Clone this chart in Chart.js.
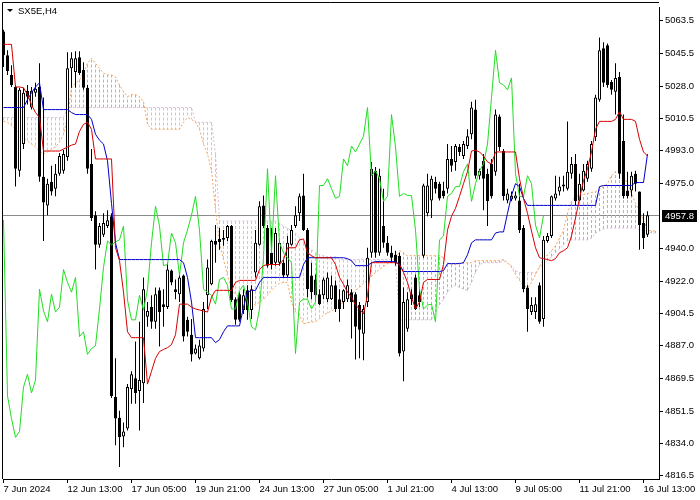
<!DOCTYPE html>
<html><head><meta charset="utf-8">
<script src="https://cdn.jsdelivr.net/npm/chart.js@4.4.1/dist/chart.umd.min.js"></script>
<style>html,body{margin:0;padding:0;background:#fff}canvas{display:block}</style>
</head><body>
<canvas id="c" width="700" height="500"></canvas>
<script>
const symbol = "SX5E,H4";
const tickLabels = ["7 Jun 2024","12 Jun 13:00","17 Jun 05:00","19 Jun 21:00","24 Jun 13:00","27 Jun 05:00","1 Jul 21:00","4 Jul 13:00","9 Jul 05:00","11 Jul 21:00","16 Jul 13:00"];
const tickBars = [0,16,32,48,64,80,96,112,128,144,160];
const yTickValues = [5063.5,5045.5,5028.0,5010.5,4993.0,4975.0,4940.0,4922.0,4904.5,4887.0,4869.5,4851.5,4834.0,4816.5];
const lastPrice = 4957.8;

const open = [5057.6,5044.7,5034.0,5027.5,4982.0,4996.5,5025.4,5016.3,5024.3,5027.5,
4978.8,4963.2,4976.1,4972.3,4980.4,4982.0,4989.5,5037.7,5035.6,5043.6,
5036.7,5027.0,4985.7,4957.9,4941.8,4947.2,4952.0,4957.3,4859.2,4848.0,
4837.8,4842.1,4863.5,4869.4,4862.5,4866.7,4902.7,4908.0,4900.0,4917.1,
4909.6,4908.0,4927.8,4917.7,4915.0,4925.2,4901.1,4893.0,4882.8,4880.2,
4885.5,4914.4,4920.4,4943.9,4945.0,4945.5,4945.5,4952.0,4912.3,4915.0,
4906.4,4917.1,4906.4,4926.8,4941.8,4963.2,4950.9,4937.5,4932.1,4932.1,
4932.1,4925.2,4941.8,4952.0,4958.9,4968.6,4949.8,4925.2,4923.0,4915.0,
4914.4,4912.3,4912.3,4919.8,4912.3,4910.7,4912.3,4916.1,4915.0,4909.1,
4893.6,4910.7,4937.5,4982.0,4937.5,4952.0,4942.9,4937.5,4936.4,4935.9,
4883.9,4896.2,4915.0,4924.1,4914.4,4935.9,4958.9,4965.9,4976.1,4975.0,
4971.3,4972.3,4988.4,4986.8,4994.9,4990.0,4995.4,5001.8,5015.2,4979.3,
4987.4,4980.4,4985.7,4981.5,5011.5,4992.7,4965.9,4966.4,4967.0,4965.9,
4950.9,4918.7,4905.3,4905.3,4919.8,4901.6,4943.9,4946.6,4967.0,4970.7,
4974.5,4972.3,4980.4,4985.7,4965.9,4971.3,4977.7,4983.1,5000.2,5020.6,
5048.5,5050.1,5030.2,5024.9,5032.9,4998.1,4971.3,4971.3,4980.4,4970.7,
4953.6,4947.2];
const high = [5058.6,5047.4,5039.3,5028.6,5027.0,5027.0,5028.6,5027.5,5029.7,5040.4,
5021.7,4977.7,4984.7,4985.7,4991.6,4993.2,5046.3,5046.3,5046.8,5046.8,
5040.9,5028.6,4993.8,4960.0,4953.6,4958.9,4960.5,4958.9,4880.2,4851.7,
4845.3,4866.2,4873.2,4889.3,4900.0,4924.1,4910.7,4914.4,4918.7,4918.7,
4917.7,4932.1,4928.4,4923.0,4926.8,4925.7,4902.7,4901.6,4887.7,4890.3,
4910.7,4933.8,4944.5,4952.5,4950.9,4949.8,4952.5,4952.5,4913.4,4916.1,
4917.7,4919.8,4919.8,4949.8,4965.4,4968.6,4952.5,4950.9,4950.9,4944.5,
4933.8,4946.6,4952.5,4962.7,4969.7,4980.4,4950.9,4932.1,4925.7,4917.7,
4924.1,4926.8,4925.2,4922.5,4917.7,4917.7,4923.0,4917.7,4916.1,4910.7,
4909.1,4940.2,4986.8,4984.1,4983.1,4972.3,4946.6,4941.3,4938.6,4937.5,
4918.7,4916.1,4917.7,4925.7,4917.7,4975.0,4980.4,4979.3,4978.8,4976.1,
4976.1,4996.5,4995.4,4996.5,4996.5,4998.1,5004.5,5019.5,5020.6,4983.1,
4991.1,4983.1,4988.4,5015.2,5012.5,4993.8,4972.3,4970.7,4970.7,4975.0,
4952.5,4919.8,4913.4,4913.4,4921.4,4946.6,4948.2,4968.6,4979.3,4978.8,
4979.3,5008.8,4989.5,4991.1,4980.4,4985.7,4987.4,4998.1,5023.3,5054.3,
5051.7,5051.1,5031.3,5040.4,5035.6,5012.5,4981.5,4981.5,4982.0,4970.7,
4958.9,4960.0];
const low = [5038.3,5034.0,5027.5,4973.4,4978.8,4993.8,5017.9,5015.2,5022.2,4976.1,
4943.9,4957.9,4968.6,4968.1,4979.3,4980.4,4987.4,5027.0,5027.0,5034.0,
5025.9,4980.4,4954.7,4928.4,4940.2,4946.1,4950.9,4858.7,4833.0,4821.2,
4831.9,4841.0,4855.5,4855.5,4841.0,4856.0,4897.3,4896.2,4896.2,4886.6,
4897.3,4907.0,4919.8,4912.3,4910.7,4889.3,4892.0,4878.5,4882.3,4879.6,
4883.9,4907.0,4919.8,4932.1,4939.1,4941.3,4943.9,4910.7,4898.4,4900.0,
4904.3,4901.1,4901.6,4924.1,4941.3,4950.9,4929.5,4928.4,4930.5,4930.5,
4924.1,4924.1,4941.3,4950.9,4954.7,4949.3,4913.4,4912.3,4910.7,4909.1,
4912.3,4910.7,4911.8,4905.3,4900.0,4907.0,4910.7,4890.9,4879.6,4880.2,
4879.1,4908.0,4934.8,4934.8,4935.9,4940.2,4935.9,4932.1,4930.5,4881.2,
4867.8,4894.6,4909.1,4906.4,4908.0,4934.8,4957.3,4956.3,4969.7,4965.9,
4967.0,4969.7,4981.5,4982.0,4990.0,4988.4,4993.8,4999.1,4977.7,4977.2,
4960.5,4952.0,4967.0,4979.3,4992.7,4965.9,4964.3,4965.4,4965.9,4948.2,
4916.1,4894.6,4903.7,4901.6,4898.9,4897.3,4942.9,4945.5,4965.9,4968.6,
4970.7,4971.3,4977.7,4963.2,4965.4,4970.7,4976.1,4981.5,4998.1,5019.5,
5027.5,5027.0,5023.3,5012.5,4977.7,4967.0,4967.0,4968.1,4970.7,4939.1,
4939.6,4946.1];
const close = [5044.7,5036.1,5028.6,4983.1,5025.9,5024.3,5022.2,5025.4,5026.5,4978.8,
4964.8,4975.0,4970.7,4980.4,4990.0,4991.1,5037.7,5043.1,5043.1,5035.0,
5027.0,4983.1,4956.3,4941.8,4952.0,4953.6,4955.2,4859.8,4847.5,4837.3,
4840.5,4864.6,4871.6,4861.4,4868.4,4917.7,4905.9,4900.0,4915.0,4905.3,
4908.0,4928.4,4921.4,4916.1,4924.1,4892.0,4894.6,4882.3,4885.5,4887.1,
4907.0,4929.5,4943.9,4941.8,4943.4,4944.5,4952.0,4911.8,4901.1,4901.1,
4914.4,4906.4,4917.7,4942.9,4962.7,4952.0,4930.5,4931.1,4948.2,4942.9,
4925.2,4942.9,4949.8,4957.9,4968.1,4949.8,4917.7,4916.1,4914.4,4909.6,
4923.0,4924.1,4919.8,4907.0,4907.0,4917.1,4919.8,4910.7,4897.3,4895.7,
4907.0,4934.8,4983.1,4937.5,4979.3,4942.9,4937.5,4934.8,4932.1,4882.8,
4910.7,4912.3,4912.3,4907.0,4910.7,4974.0,4974.0,4977.7,4972.3,4967.0,
4968.1,4988.4,4984.7,4995.4,4992.2,4996.5,5000.7,5016.3,4979.3,4982.0,
4977.7,4965.4,4968.1,5012.5,4994.9,4968.1,4969.7,4968.6,4968.6,4949.8,
4917.7,4907.0,4909.1,4909.6,4900.0,4944.5,4946.6,4968.1,4969.7,4973.4,
4973.4,4981.5,4985.7,4965.4,4975.0,4982.0,4985.7,4996.5,5021.7,5047.4,
5029.7,5028.6,5025.9,5032.4,4980.4,4968.1,4968.1,4979.3,4975.0,4952.5,
4945.5,4957.8];

const tenkan = [5050.6,5050.6,5050.6,5027.5,5027.5,5027.0,5023.3,5017.9,5013.6,5010.9,
4992.7,4992.7,4992.7,4992.7,4992.7,4993.8,4994.9,4995.9,4996.5,5003.4,
5007.2,5008.3,5004.5,4988.4,4988.4,4988.4,4988.4,4988.4,4940.2,4933.2,
4916.1,4894.6,4891.4,4891.4,4891.4,4891.4,4866.2,4873.2,4880.2,4883.9,
4885.0,4886.0,4887.7,4893.0,4909.6,4909.6,4909.6,4908.0,4907.0,4906.4,
4905.9,4905.3,4913.4,4917.1,4917.1,4917.1,4917.1,4917.1,4921.4,4922.5,
4922.5,4922.5,4922.5,4922.5,4928.4,4930.5,4931.1,4931.1,4931.1,4931.1,
4933.8,4940.2,4940.2,4940.2,4944.5,4945.0,4937.5,4935.9,4934.8,4934.8,
4934.8,4934.8,4934.8,4931.1,4924.1,4920.4,4916.1,4913.4,4909.1,4907.0,
4904.3,4914.4,4932.1,4932.1,4932.1,4932.1,4932.1,4932.1,4932.1,4931.1,
4926.8,4921.4,4913.4,4907.0,4910.7,4921.4,4923.0,4923.0,4923.0,4923.0,
4931.1,4949.8,4957.3,4961.6,4968.1,4975.0,4981.5,4992.7,4993.2,4992.2,
4990.0,4986.8,4985.7,4992.2,4992.2,4992.2,4992.2,4992.2,4992.2,4977.7,
4967.0,4958.9,4949.3,4940.2,4934.8,4934.3,4933.8,4933.2,4934.3,4937.5,
4938.6,4940.2,4946.6,4956.3,4967.0,4976.6,4983.1,4992.2,5004.5,5008.8,
5008.8,5008.8,5008.8,5009.9,5014.1,5009.9,5009.9,5009.9,5008.8,4999.1,
4992.2,4990.0];
const kijun = [5016.3,5016.3,5016.3,5016.3,5016.3,5016.3,5020.6,5024.3,5027.5,5029.7,
5015.2,5015.2,5015.2,5015.2,5015.2,5015.2,5015.2,5013.6,5012.5,5012.5,
5012.5,5012.5,5009.9,5001.8,4998.6,4996.5,4987.4,4964.3,4942.9,4933.8,
4933.8,4933.8,4933.8,4933.8,4933.8,4933.8,4933.8,4933.8,4933.8,4933.8,
4933.8,4933.8,4933.8,4933.8,4933.8,4932.1,4924.1,4910.7,4891.4,4891.4,
4891.4,4891.4,4891.4,4888.7,4890.3,4894.6,4897.8,4897.8,4897.8,4897.8,
4908.0,4916.1,4917.1,4917.1,4921.4,4924.1,4924.1,4924.1,4924.1,4924.1,
4924.1,4924.1,4924.1,4924.1,4924.1,4931.1,4934.8,4934.8,4934.8,4934.8,
4934.8,4934.8,4934.8,4934.8,4934.8,4934.8,4934.3,4933.2,4930.5,4930.5,
4930.5,4930.5,4932.1,4932.7,4932.7,4932.7,4932.7,4932.7,4932.7,4931.1,
4927.3,4927.3,4927.3,4927.3,4927.3,4927.3,4927.3,4927.3,4927.3,4927.3,
4927.8,4931.6,4931.6,4931.6,4931.6,4932.1,4936.4,4942.9,4944.5,4944.5,
4944.5,4944.5,4944.5,4948.2,4948.8,4948.8,4958.9,4968.6,4975.0,4973.4,
4967.0,4963.2,4963.2,4963.2,4963.2,4963.2,4963.2,4963.2,4963.2,4963.2,
4963.2,4963.2,4963.2,4963.2,4963.2,4963.2,4963.2,4963.2,4963.2,4973.4,
4974.0,4974.0,4974.0,4974.0,4974.0,4974.0,4974.0,4974.0,4975.6,4975.6,
4975.6,4991.1];
const chikou = [4955.2,4859.8,4847.5,4837.3,4840.5,4864.6,4871.6,4861.4,4868.4,4917.7,
4905.9,4900.0,4915.0,4905.3,4908.0,4928.4,4921.4,4916.1,4924.1,4892.0,
4894.6,4882.3,4885.5,4887.1,4907.0,4929.5,4943.9,4941.8,4943.4,4944.5,
4952.0,4911.8,4901.1,4901.1,4914.4,4906.4,4917.7,4942.9,4962.7,4952.0,
4930.5,4931.1,4948.2,4942.9,4925.2,4942.9,4949.8,4957.9,4968.1,4949.8,
4917.7,4916.1,4914.4,4909.6,4923.0,4924.1,4919.8,4907.0,4907.0,4917.1,
4919.8,4910.7,4897.3,4895.7,4907.0,4934.8,4983.1,4937.5,4979.3,4942.9,
4937.5,4934.8,4932.1,4882.8,4910.7,4912.3,4912.3,4907.0,4910.7,4974.0,
4974.0,4977.7,4972.3,4967.0,4968.1,4988.4,4984.7,4995.4,4992.2,4996.5,
5000.7,5016.3,4979.3,4982.0,4977.7,4965.4,4968.1,5012.5,4994.9,4968.1,
4969.7,4968.6,4968.6,4949.8,4917.7,4907.0,4909.1,4909.6,4900.0,4944.5,
4946.6,4968.1,4969.7,4973.4,4973.4,4981.5,4985.7,4965.4,4975.0,4982.0,
4985.7,4996.5,5021.7,5047.4,5029.7,5028.6,5025.9,5032.4,4980.4,4968.1,
4968.1,4979.3,4975.0,4952.5,4945.5,4957.8];
const spanA = [5008.8,5008.3,5006.6,5004.5,5001.8,5000.2,4998.1,4996.5,4994.9,4992.7,
4991.1,4992.2,4993.8,4994.9,4997.5,5001.8,5010.9,5027.0,5029.7,5031.3,
5035.0,5040.4,5043.1,5040.4,5037.7,5035.0,5034.0,5034.0,5032.9,5028.6,
5024.9,5022.2,5023.3,5023.3,5022.2,5019.5,5007.2,5004.5,5004.5,5004.5,
5004.5,5004.5,5004.5,5004.5,5004.5,5008.3,5010.9,5009.9,5008.3,5004.5,
4996.5,4991.1,4982.0,4960.5,4942.9,4933.8,4925.2,4917.7,4915.0,4913.4,
4912.3,4911.2,4910.2,4909.1,4910.7,4912.3,4914.4,4917.1,4919.3,4920.9,
4921.4,4921.4,4910.7,4905.3,4903.7,4898.9,4899.5,4900.0,4900.0,4901.6,
4903.7,4904.8,4905.9,4907.0,4909.1,4910.7,4912.8,4915.0,4917.1,4918.7,
4920.9,4922.5,4924.6,4926.8,4928.4,4930.0,4931.6,4932.7,4933.2,4938.6,
4937.5,4935.9,4935.9,4935.9,4935.9,4935.9,4935.9,4935.9,4935.9,4935.9,
4934.8,4932.1,4931.1,4931.1,4932.1,4932.1,4932.1,4932.1,4933.2,4933.2,
4933.2,4933.2,4933.2,4933.2,4933.2,4933.8,4932.1,4929.5,4925.7,4922.5,
4919.8,4918.7,4921.4,4925.7,4930.0,4933.8,4936.4,4938.6,4941.3,4945.5,
4949.8,4958.9,4965.4,4968.1,4968.6,4969.1,4969.7,4970.2,4970.7,4971.8,
4973.4,4975.0,4979.3,4981.5,4981.5,4979.3,4975.0,4969.7,4964.3,4960.0,
4955.2,4949.8,4949.3,4949.3];
const spanB = [5010.9,5010.9,5010.9,5010.9,5010.9,5010.9,5010.9,5010.9,5010.9,5010.9,
5010.9,5010.9,5010.9,5010.9,5010.9,5010.9,5016.3,5016.3,5016.3,5016.3,
5016.3,5016.3,5016.3,5016.3,5016.3,5016.3,5016.3,5016.3,5016.3,5016.3,
5016.3,5016.3,5016.3,5016.3,5016.3,5016.3,5016.3,5016.3,5016.3,5016.3,
5016.3,5016.3,5016.3,5016.3,5016.3,5016.3,5016.3,5016.3,5008.3,5008.3,
5008.3,5008.3,5008.3,4991.1,4954.7,4954.7,4954.7,4954.7,4954.7,4954.7,
4954.7,4954.7,4954.7,4954.7,4954.7,4954.7,4954.7,4954.7,4954.7,4953.6,
4952.0,4950.9,4949.3,4948.2,4945.5,4942.9,4940.7,4939.1,4937.5,4936.4,
4935.9,4935.4,4935.4,4935.4,4933.8,4933.8,4933.8,4933.8,4933.8,4933.8,
4933.8,4933.8,4933.8,4933.8,4933.8,4933.8,4933.8,4933.8,4933.8,4901.1,
4901.1,4901.1,4901.1,4901.1,4901.1,4901.1,4901.1,4901.1,4905.3,4909.1,
4912.3,4916.1,4918.7,4919.8,4918.7,4917.7,4917.1,4921.4,4926.8,4931.1,
4932.1,4932.1,4932.1,4932.1,4932.1,4933.2,4932.1,4930.5,4927.8,4926.8,
4926.8,4926.8,4926.8,4926.8,4929.5,4931.1,4933.2,4935.4,4937.5,4939.6,
4941.8,4943.9,4944.5,4944.5,4944.5,4944.5,4944.5,4945.5,4948.2,4949.3,
4950.4,4950.9,4950.9,4950.9,4950.9,4950.9,4950.9,4950.9,4950.9,4949.8,
4949.3,4948.8,4948.2,4948.2];

const SAND = '#f4a460';
const THISTLE = '#d8bfd8';

const toPts = arr => arr.map((v, i) => ({x: i, y: v}));
const bodies = open.map((o, i) => ({x: i, y: [o, close[i]]}));
const wicks = open.map((o, i) => ({x: i, y: [low[i], high[i]]}));
const bodyColors = open.map((o, i) => close[i] >= o ? '#ffffff' : '#000000');

// Kumo hatch: one dotted vertical segment per bar, from Span B to Span A
const kumoSets = spanA.map((a, i) => ({
  type: 'line', label: 'Kumo ' + i,
  data: [{x: i, y: spanB[i]}, {x: i, y: a}],
  borderColor: a >= spanB[i] ? SAND : THISTLE,
  borderWidth: 1, borderDash: [3, 2], pointRadius: 0, fill: false, order: 5
}));

const FONT = "'Liberation Sans', Arial, sans-serif";
const font = {family: FONT, size: 9.5};

const decor = {
  id: 'decor',
  beforeDatasetsDraw(chart) {
    const {ctx, chartArea: a, scales: {y}} = chart;
    const py = Math.round(y.getPixelForValue(lastPrice)) + 0.5;
    ctx.save();
    ctx.strokeStyle = '#8a8a8a'; ctx.lineWidth = 1;
    ctx.beginPath(); ctx.moveTo(a.left, py); ctx.lineTo(a.right, py); ctx.stroke();
    ctx.restore();
  },
  afterDraw(chart) {
    const {ctx, chartArea: a, scales: {y}} = chart;
    ctx.save();
    ctx.strokeStyle = '#000'; ctx.lineWidth = 1;
    ctx.beginPath(); ctx.moveTo(2.5, a.bottom); ctx.lineTo(2.5, 2.5); ctx.lineTo(a.right, 2.5); ctx.stroke();
    const py = Math.round(y.getPixelForValue(lastPrice));
    ctx.fillStyle = '#000';
    ctx.fillRect(a.right + 3, py - 5, 35, 12);
    ctx.fillStyle = '#fff';
    ctx.font = "9.5px " + FONT;
    ctx.textBaseline = 'middle'; ctx.textAlign = 'left';
    ctx.fillText(lastPrice.toFixed(1), a.right + 6, py + 1);
    ctx.fillStyle = '#000';
    ctx.beginPath(); ctx.moveTo(7, 9); ctx.lineTo(13, 9); ctx.lineTo(10, 12); ctx.closePath(); ctx.fill();
    ctx.fillText(symbol, 18, 11);
    ctx.restore();
  }
};

new Chart(document.getElementById('c'), {
  type: 'bar',
  data: {datasets: [
    {type: 'line', label: 'Tenkan-sen', data: toPts(tenkan), borderColor: '#d40000', borderWidth: 1, pointRadius: 0, tension: 0, fill: false, order: 0},
    {type: 'line', label: 'Kijun-sen', data: toPts(kijun), borderColor: '#0000c8', borderWidth: 1, pointRadius: 0, tension: 0, fill: false, order: 0},
    {type: 'line', label: 'Chikou Span', data: toPts(chikou), borderColor: '#22dd22', borderWidth: 1, pointRadius: 0, tension: 0, fill: false, order: 0},
    {type: 'bar', label: 'Body', data: bodies, backgroundColor: bodyColors, borderColor: '#000', borderWidth: 1, borderSkipped: false, barThickness: 3, grouped: false, minBarLength: 1, inflateAmount: 0, order: 1},
    {type: 'bar', label: 'Wick', data: wicks, backgroundColor: '#000', borderWidth: 0, barThickness: 1, grouped: false, inflateAmount: 0, order: 2},
    {type: 'line', label: 'Senkou Span A', data: toPts(spanA), borderColor: SAND, borderDash: [2, 2], borderWidth: 1, pointRadius: 0, tension: 0, fill: false, order: 3},
    {type: 'line', label: 'Senkou Span B', data: toPts(spanB), borderColor: THISTLE, borderDash: [2, 2], borderWidth: 1, pointRadius: 0, tension: 0, fill: false, order: 4},
    ...kumoSets
  ]},
  options: {
    responsive: false, animation: false, devicePixelRatio: 1, events: [],
    layout: {padding: {left: 3, top: 2, right: 0, bottom: 0}},
    plugins: {legend: {display: false}, tooltip: {enabled: false}},
    scales: {
      x: {
        type: 'linear', position: 'bottom', min: -0.125, max: 163.875, offset: false,
        afterBuildTicks: s => { s.ticks = tickBars.map(v => ({value: v})); },
        afterFit: s => { s.height = 21; },
        grid: {offset: false, drawOnChartArea: false, drawTicks: true, tickLength: 4, color: '#000', tickColor: '#000'},
        border: {display: true, color: '#000', width: 1},
        ticks: {autoSkip: false, maxRotation: 0, minRotation: 0, align: 'start', padding: 1, color: '#000', font,
          callback: (v, i) => tickLabels[i]}
      },
      y: {
        type: 'linear', position: 'right', min: 4814.7, max: 5070.5,
        afterBuildTicks: s => { s.ticks = yTickValues.map(v => ({value: v})); },
        afterFit: s => { s.width = 41; },
        grid: {drawOnChartArea: false, drawTicks: true, tickLength: 4, color: '#000', tickColor: '#000'},
        border: {display: true, color: '#000', width: 1},
        ticks: {padding: 2, color: '#000', font, callback: v => Number(v).toFixed(1)}
      }
    }
  },
  plugins: [decor]
});
</script>
</body></html>
